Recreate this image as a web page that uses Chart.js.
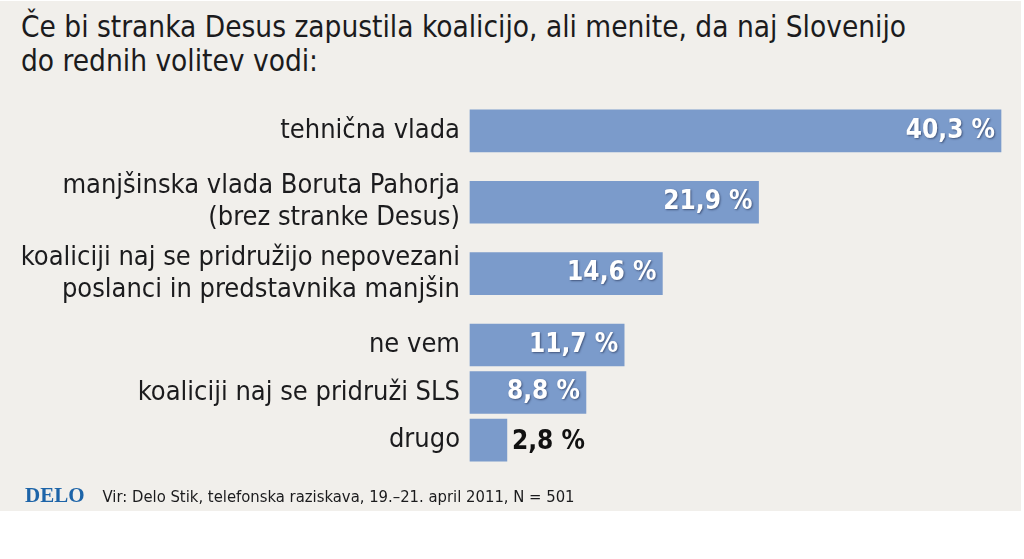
<!DOCTYPE html>
<html>
<head>
<meta charset="utf-8">
<script src="https://cdn.jsdelivr.net/npm/chart.js@4"></script>
<style>
  html, body { margin: 0; padding: 0; background: #fff; }
  body { width: 1024px; height: 559px; position: relative; overflow: hidden; font-family: 'DejaVu Sans Condensed', sans-serif; color: #1b1b1d; }
  #panel { position: absolute; left: 0; top: 1px; width: 1021px; height: 510px; background: #f1efeb; }
  #title { position: absolute; left: 21px; top: 10px; font-size: 29.5px; line-height: 34px; }
  #footer { position: absolute; left: 25px; top: 483px; white-space: nowrap; }
  #footer .logo { font-family: 'Liberation Serif', serif; font-weight: bold; font-size: 21px; color: #1d64a8; }
  #footer .src { font-size: 16.5px; margin-left: 18px; }
  #chart { position: absolute; left: 0; top: 0; }
</style>
</head>
<body>
<div id="panel"></div>
<div id="title">Če bi stranka Desus zapustila koalicijo, ali menite, da naj Slovenijo<br>do rednih volitev vodi:</div>
<canvas id="chart" width="1024" height="559"></canvas>
<div id="footer"><span class="logo">DELO</span><span class="src">Vir: Delo Stik, telefonska raziskava, 19.–21. april 2011, N = 501</span></div>

<script>
// --- DATA ---
const categories = [
    ['tehnična vlada'],
    ['manjšinska vlada Boruta Pahorja', '(brez stranke Desus)'],
    ['koaliciji naj se pridružijo nepovezani', 'poslanci in predstavnika manjšin'],
    ['ne vem'],
    ['koaliciji naj se pridruži SLS'],
    ['drugo']
];
const values = [40.3, 21.9, 14.6, 11.7, 8.8, 2.8];

// rows taken by each category on the axis (two-line labels need more room)
const rowSpan = [3, 3, 3, 2, 2, 1];

// spread categories over rows, empty rows between them
const rowLabels = [];
const rowValues = [];
categories.forEach((c, i) => {
    rowLabels.push(c);
    rowValues.push(values[i]);
    for (let k = 1; k < rowSpan[i]; k++) { rowLabels.push(''); rowValues.push(null); }
});

const fmt = v => v.toFixed(1).replace('.', ',') + ' %';
const FONT = "'DejaVu Sans Condensed', sans-serif";

// --- VALUE LABELS ---
const valueLabels = {
    id: 'valueLabels',
    afterDatasetsDraw(chart) {
        const ctx = chart.ctx;
        const meta = chart.getDatasetMeta(0);
        ctx.save();
        ctx.font = 'bold 26px ' + FONT;
        ctx.textBaseline = 'middle';
        meta.data.forEach((bar, i) => {
            const v = rowValues[i];
            if (v == null) return;
            const txt = fmt(v);
            const w = ctx.measureText(txt).width;
            const barW = bar.x - bar.base;
            if (barW > w + 14) {
                ctx.textAlign = 'right';
                ctx.fillStyle = '#ffffff';
                ctx.shadowColor = 'rgba(20,30,60,0.55)';
                ctx.shadowBlur = 2;
                ctx.shadowOffsetX = 1;
                ctx.shadowOffsetY = 1;
                ctx.fillText(txt, bar.x - 6, bar.y);
            } else {
                ctx.textAlign = 'left';
                ctx.fillStyle = '#111111';
                ctx.shadowColor = 'transparent';
                ctx.fillText(txt, bar.x + 5, bar.y + 2);
            }
        });
        ctx.restore();
    }
};

new Chart(document.getElementById('chart'), {
    type: 'bar',
    data: {
        labels: rowLabels,
        datasets: [{
            data: rowValues,
            backgroundColor: '#7b9bcb',
            borderWidth: 0,
            barThickness: 42,
            clip: false
        }]
    },
    options: {
        indexAxis: 'y',
        responsive: false,
        animation: false,
        events: [],
        layout: { padding: { left: 0, right: 23, top: 119, bottom: 107 } },
        plugins: { legend: { display: false }, tooltip: { enabled: false } },
        scales: {
            x: { display: false, min: 0, max: 40.3 },
            y: {
                grid: { display: false, drawTicks: false },
                border: { display: false },
                ticks: {
                    autoSkip: false,
                    padding: 10,
                    color: '#1b1b1d',
                    font: { family: FONT, size: 27, lineHeight: 1.18 }
                },
                afterFit(scale) { scale.width = 470; }
            }
        }
    },
    plugins: [valueLabels]
});
</script>
</body>
</html>
